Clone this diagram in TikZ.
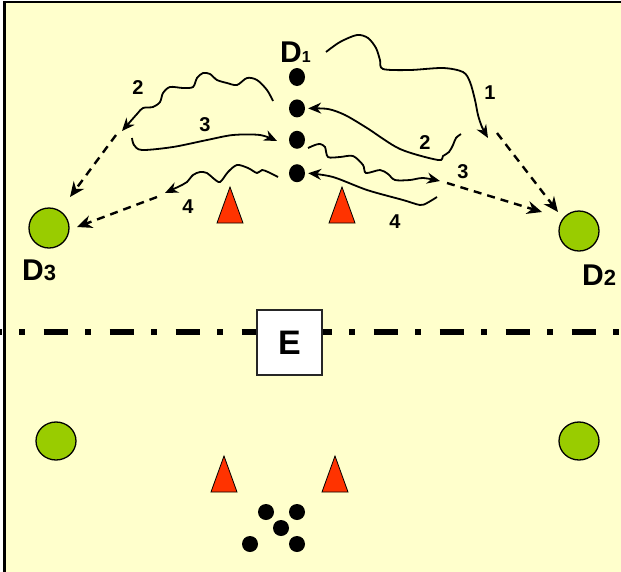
\documentclass[tikz,border=0pt]{standalone}
\usepackage{fontspec}
\setmainfont{Liberation Sans}
\usetikzlibrary{arrows.meta, shapes.geometric, positioning}

\definecolor{pitch}{HTML}{FFFFCC}
\definecolor{conered}{HTML}{FF3300}
\definecolor{playergreen}{HTML}{99CC00}

\begin{document}
\begin{tikzpicture}[x=1pt, y=-1pt]
    \tikzstyle{ball} = [ellipse, fill=black, inner sep=0pt, minimum width=16pt, minimum height=18pt]
    \tikzstyle{player} = [ellipse, draw, line width=1.3pt, fill=playergreen, inner sep=0pt,
                          minimum width=40pt, minimum height=40pt]
    \tikzstyle{cone} = [fill=conered, draw, line width=0.8pt]
    \tikzstyle{tag} = [font=\bfseries\fontsize{30}{30}\selectfont, inner sep=0pt, anchor=base west]
    \tikzstyle{num} = [font=\bfseries\fontsize{20}{20}\selectfont, inner sep=0pt]
    \tikzstyle{run} = [-{Stealth[length=13pt, width=11pt]}, line width=1.8pt]
    \tikzstyle{pass} = [-{Stealth[length=15pt, width=13pt]}, line width=2.4pt, dash pattern=on 8pt off 6pt]

    \useasboundingbox (0,0) rectangle (621,571);
    \begin{scope}
        \clip (0,0) rectangle (621,571);
        \filldraw[fill=pitch, line width=2.6pt] (4.5,1.8) rectangle (640,590);
        % half-way line
        \draw[line width=5.5pt, dash pattern=on 24pt off 17.5pt on 6pt off 18.5pt] (-22.4,332) -- (640,332);
    \end{scope}

    \node (E) [draw=black!85, fill=white, line width=1.3pt, minimum width=65pt, minimum height=65pt,
               font=\bfseries\fontsize{34}{34}\selectfont] at (289.5,342.5) {E};

    % balls at D1
    \node (b1) [ball] at (297,77) {};
    \node (b2) [ball, below=13pt of b1] {};
    \node (b3) [ball, below=13pt of b2] {};
    \node (b4) [ball, below=15pt of b3] {};

    \node (pD3) [player] at (49,228) {};
    \node (pD2) [player] at (579,231) {};
    \node (pL)  [player, minimum height=38pt] at (56,441) {};
    \node (pR)  [player, minimum height=38pt] at (579,441) {};

    \node (lD1) [tag] at (280,62) {D{\fontsize{16}{16}\selectfont 1}};
    \node (lD3) [tag] at (22,280) {D{\fontsize{22}{22}\selectfont 3}};
    \node (lD2) [tag] at (582,285) {D{\fontsize{22}{22}\selectfont 2}};

    % cones
    \foreach \ax/\ay in {230/187, 342/187, 224/456, 335/456}
        \filldraw[cone] (\ax,\ay) -- ++(-13,36) -- ++(26,0) -- cycle;

    % balls at the start
    \node (k1) [ball, minimum height=16pt] at (266,512) {};
    \node (k2) [ball, minimum height=16pt] at (297,512) {};
    \node (k3) [ball, minimum height=16pt] at (281,528) {};
    \node (k4) [ball, minimum height=16pt] at (250,544) {};
    \node (k5) [ball, minimum height=16pt] at (297,544) {};

    % ends of the runs and passes
    \coordinate (r1) at (488,138);
    \coordinate (s1) at (497,133);
    \coordinate (t1) at (558,212);
    \coordinate (r3) at (440,181);
    \coordinate (s3) at (447,183);
    \coordinate (t3) at (542,212);
    \coordinate (q2) at (122,131);
    \coordinate (u2) at (116,135);
    \coordinate (v2) at (70,197);
    \coordinate (q3) at (277,141);
    \coordinate (q4) at (165,193);
    \coordinate (u4) at (157,197);
    \coordinate (v4) at (77,227);

    % right side
    \draw [run] plot[smooth] coordinates {(326,52) (340,42) (357,35) (368,38) (376,48) (380,60) (383,69)
        (410,70) (443,68) (463,72) (470,82) (475,100) (478,115) (482,127) (r1)};
    \draw [pass] (s1) -- (t1);
    \draw [run] plot[smooth] coordinates {(461,134) (456,138) (453,145) (449,152) (443,156) (438,160)
        (400,149) (367,128) (345,115) (328,109) ([xshift=3pt]b2.east)};
    \draw [run] plot[smooth] coordinates {(308,148) (315,145) (320,144) (325,147) (328,157) (340,157)
        (353,156) (363,165) (366,173) (380,170) (388,174) (395,180) (410,180) (423,178) (r3)};
    \draw [pass] (s3) -- (t3);
    \draw [run] plot[smooth] coordinates {(437,197) (427,203) (420,205) (403,200) (367,190) (333,177)
        ([xshift=3pt]b4.east)};

    % left side
    \draw [run] plot[smooth] coordinates {(273,101) (267,90) (257,80) (247,78) (237,85) (227,83) (217,80)
        (210,74) (203,73) (197,78) (193,87) (183,88) (170,87) (163,93) (160,102) (153,107) (143,108)
        (137,114) (q2)};
    \draw [pass] (u2) -- (v2);
    \draw [run] plot[smooth] coordinates {(132,138) (134,145) (142,150) (173,147) (207,140) (233,135)
        (260,135) (q3)};
    \draw [run] plot[smooth] coordinates {(278,177) (268,172) (262,170) (257,173) (248,168) (237,165)
        (228,172) (220,182) (213,178) (207,173) (200,172) (193,175) (187,182) (182,185) (q4)};
    \draw [pass] (u4) -- (v4);

    \node (n1)  [num] at (490,93)  {1};
    \node (n2r) [num] at (425,143) {2};
    \node (n3r) [num] at (463,172) {3};
    \node (n4r) [num] at (395,222) {4};
    \node (n2l) [num] at (138,88)  {2};
    \node (n3l) [num] at (205,125) {3};
    \node (n4l) [num] at (188,207) {4};
\end{tikzpicture}
\end{document}
